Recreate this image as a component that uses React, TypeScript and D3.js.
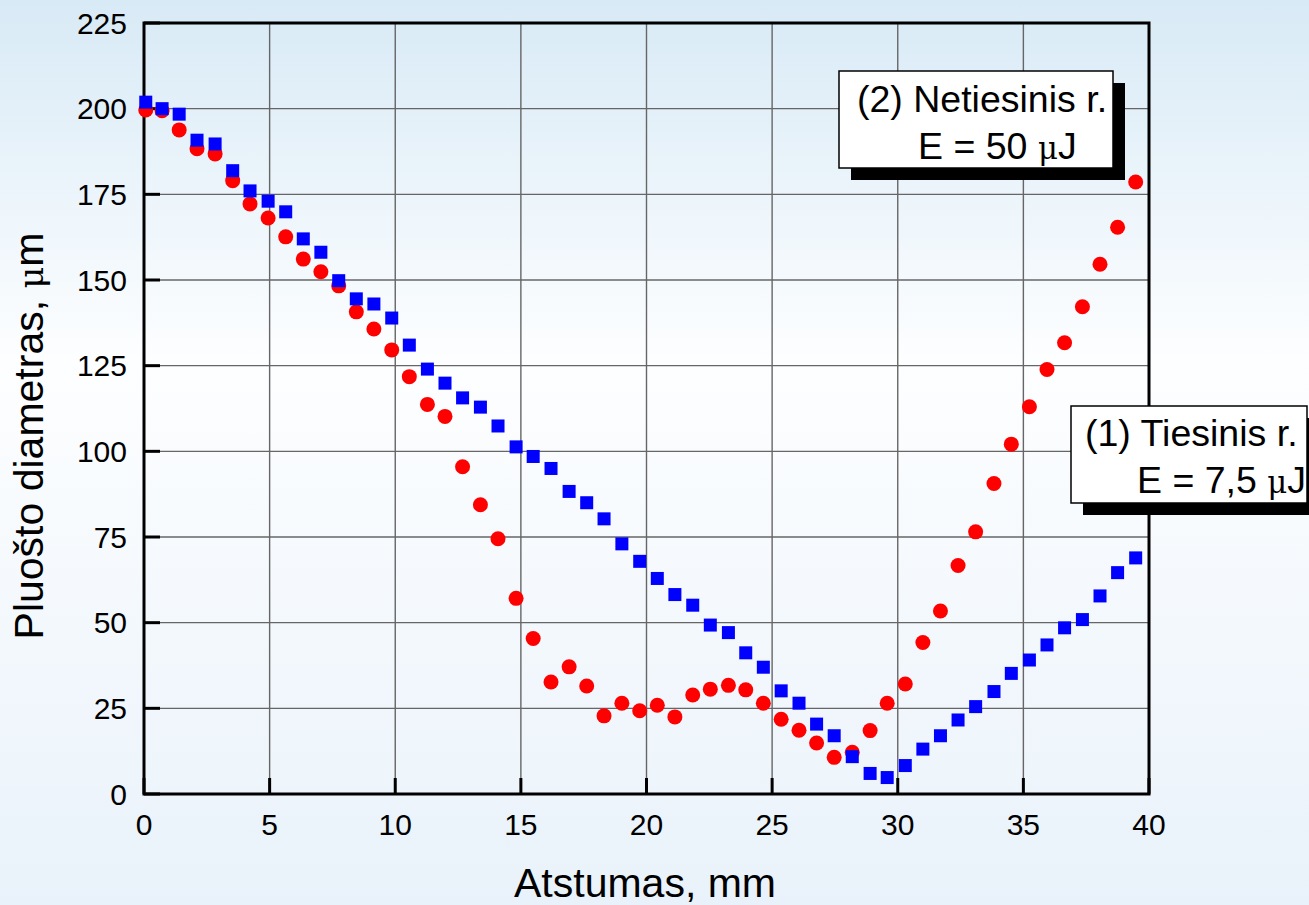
import * as d3 from 'd3';

// measurement positions, mm
const distance = [
  0.07, 0.72, 1.4, 2.11, 2.83, 3.53, 4.22, 4.94, 5.64, 6.34, 7.04, 7.75, 8.45, 9.15, 9.86,
  10.56, 11.28, 11.98, 12.68, 13.39, 14.09, 14.81, 15.49, 16.2, 16.92, 17.62, 18.31, 19.02,
  19.73, 20.43, 21.13, 21.84, 22.54, 23.26, 23.95, 24.65, 25.36, 26.07, 26.77, 27.47, 28.19,
  28.9, 29.58, 30.3, 31.0, 31.7, 32.4, 33.1, 33.83, 34.52, 35.24, 35.94, 36.64, 37.35, 38.05,
  38.75, 39.47,
];

// (1) Tiesinis r., E = 7,5 uJ  -> blue squares
const linearDiam = [
  201.9, 200.0, 198.4, 190.8, 189.7, 181.9, 176.0, 173.0, 169.9, 162.0, 158.1, 149.8, 144.5,
  143.0, 138.9, 131.0, 124.0, 119.9, 115.6, 112.9, 107.4, 101.3, 98.5, 95.0, 88.3, 85.0, 80.3,
  73.0, 67.9, 62.9, 58.2, 55.1, 49.3, 47.1, 41.2, 37.0, 30.1, 26.5, 20.4, 17.0, 10.9, 6.0, 4.8,
  8.3, 13.1, 17.0, 21.6, 25.5, 29.9, 35.2, 39.1, 43.5, 48.5, 50.9, 57.8, 64.6, 68.9,
];

// (2) Netiesinis r., E = 50 uJ  -> red circles
const nonlinearDiam = [
  199.6, 199.4, 193.8, 188.3, 186.8, 179.0, 172.2, 168.1, 162.6, 156.1, 152.4, 148.3, 140.7,
  135.7, 129.6, 121.8, 113.7, 110.2, 95.5, 84.4, 74.5, 57.1, 45.4, 32.7, 37.1, 31.5, 22.8, 26.5,
  24.3, 25.9, 22.5, 28.9, 30.6, 31.7, 30.4, 26.5, 21.8, 18.6, 14.9, 10.7, 12.2, 18.5, 26.5, 32.1,
  44.2, 53.4, 66.7, 76.5, 90.6, 102.1, 113.0, 123.9, 131.7, 142.2, 154.6, 165.4, 178.6,
];

const xTicks = [0, 5, 10, 15, 20, 25, 30, 35, 40];
const yTicks = [0, 25, 50, 75, 100, 125, 150, 175, 200, 225];

const W = 1309;
const H = 905;
const FONT = "'Liberation Sans', Arial, sans-serif";

// small greek mu, like the Symbol font one in the original
const Mu = () => (
  <tspan fontSize="0.82em" fontFamily="'DejaVu Serif', serif">μ</tspan>
);

export default function App() {
  const x = d3.scaleLinear().domain([0, 40]).range([144, 1149]);
  const y = d3.scaleLinear().domain([0, 225]).range([794, 23]);
  const [x0, x1] = x.range();
  const [y0, y1] = y.range();

  const legend = (
    bx: number,
    by: number,
    bw: number,
    bh: number,
    title: string,
    energy: string,
    t1: number[],
    t2: number[],
  ) => (
    <g>
      <rect x={bx + 12} y={by + 12} width={bw} height={bh} fill="#000" />
      <rect x={bx} y={by} width={bw} height={bh} fill="#fff" stroke="#000" strokeWidth={1.5} />
      <text x={bx + t1[0]} y={by + t1[1]} fontSize={37.5} fontFamily={FONT} fill="#000">
        {title}
      </text>
      <text x={bx + t2[0]} y={by + t2[1]} fontSize={37.5} fontFamily={FONT} fill="#000">
        {energy} <Mu />J
      </text>
    </g>
  );

  return (
    <svg
      width={W}
      height={H}
      style={{ position: 'absolute', left: 0, top: 0, display: 'block' }}
    >
      <defs>
        <linearGradient id="bg" x1="0" y1="0" x2="0" y2="1">
          <stop offset="0%" stopColor="#d8eaf6" />
          <stop offset="40%" stopColor="#fdfeff" />
          <stop offset="100%" stopColor="#e9f2fa" />
        </linearGradient>
      </defs>
      <rect x={0} y={0} width={W} height={H} fill="url(#bg)" />

      {/* grid */}
      {xTicks.map((t) => (
        <line key={'gx' + t} x1={x(t)} x2={x(t)} y1={y0} y2={y1} stroke="#666" strokeWidth={1.4} />
      ))}
      {yTicks.map((t) => (
        <line key={'gy' + t} x1={x0} x2={x1} y1={y(t)} y2={y(t)} stroke="#666" strokeWidth={1.4} />
      ))}

      {/* ticks */}
      {xTicks.map((t) => (
        <line key={'tx' + t} x1={x(t)} x2={x(t)} y1={y0} y2={y0 - 16} stroke="#000" strokeWidth={3} />
      ))}
      {yTicks.map((t) => (
        <line key={'ty' + t} x1={x0} x2={x0 + 16} y1={y(t)} y2={y(t)} stroke="#000" strokeWidth={3} />
      ))}

      {/* frame */}
      <rect x={x0} y={y1} width={x1 - x0} height={y0 - y1} fill="none" stroke="#000" strokeWidth={3} />

      {/* tick labels */}
      {xTicks.map((t) => (
        <text key={'lx' + t} x={x(t)} y={835} textAnchor="middle" fontSize={30} fontFamily={FONT} fill="#000">
          {t}
        </text>
      ))}
      {yTicks.map((t) => (
        <text
          key={'ly' + t}
          x={127}
          y={y(t)}
          dy="0.36em"
          textAnchor="end"
          fontSize={30}
          fontFamily={FONT}
          fill="#000"
        >
          {t}
        </text>
      ))}

      {/* axis titles */}
      <text x={645} y={897} textAnchor="middle" fontSize={41} fontFamily={FONT} fill="#000">
        Atstumas, mm
      </text>
      <text
        transform={`translate(43, 436) rotate(-90)`}
        textAnchor="middle"
        fontSize={41}
        fontFamily={FONT}
        fill="#000"
      >
        Pluošto diametras, <Mu />m
      </text>

      {/* series 2: circles */}
      {distance.map((d, i) => (
        <circle key={'c' + i} cx={x(d)} cy={y(nonlinearDiam[i])} r={7.5} fill="#ff0000" />
      ))}
      {/* series 1: squares */}
      {distance.map((d, i) => (
        <rect
          key={'s' + i}
          x={x(d) - 6.5}
          y={y(linearDiam[i]) - 6.5}
          width={13}
          height={13}
          fill="#0000ff"
        />
      ))}

      {/* legend boxes */}
      {legend(839, 71, 274, 97, '(2) Netiesinis r.', 'E = 50', [18, 41], [79, 88])}
      {legend(1071, 406, 236, 97, '(1) Tiesinis r.', 'E = 7,5', [14, 40], [66, 87])}
    </svg>
  );
}
